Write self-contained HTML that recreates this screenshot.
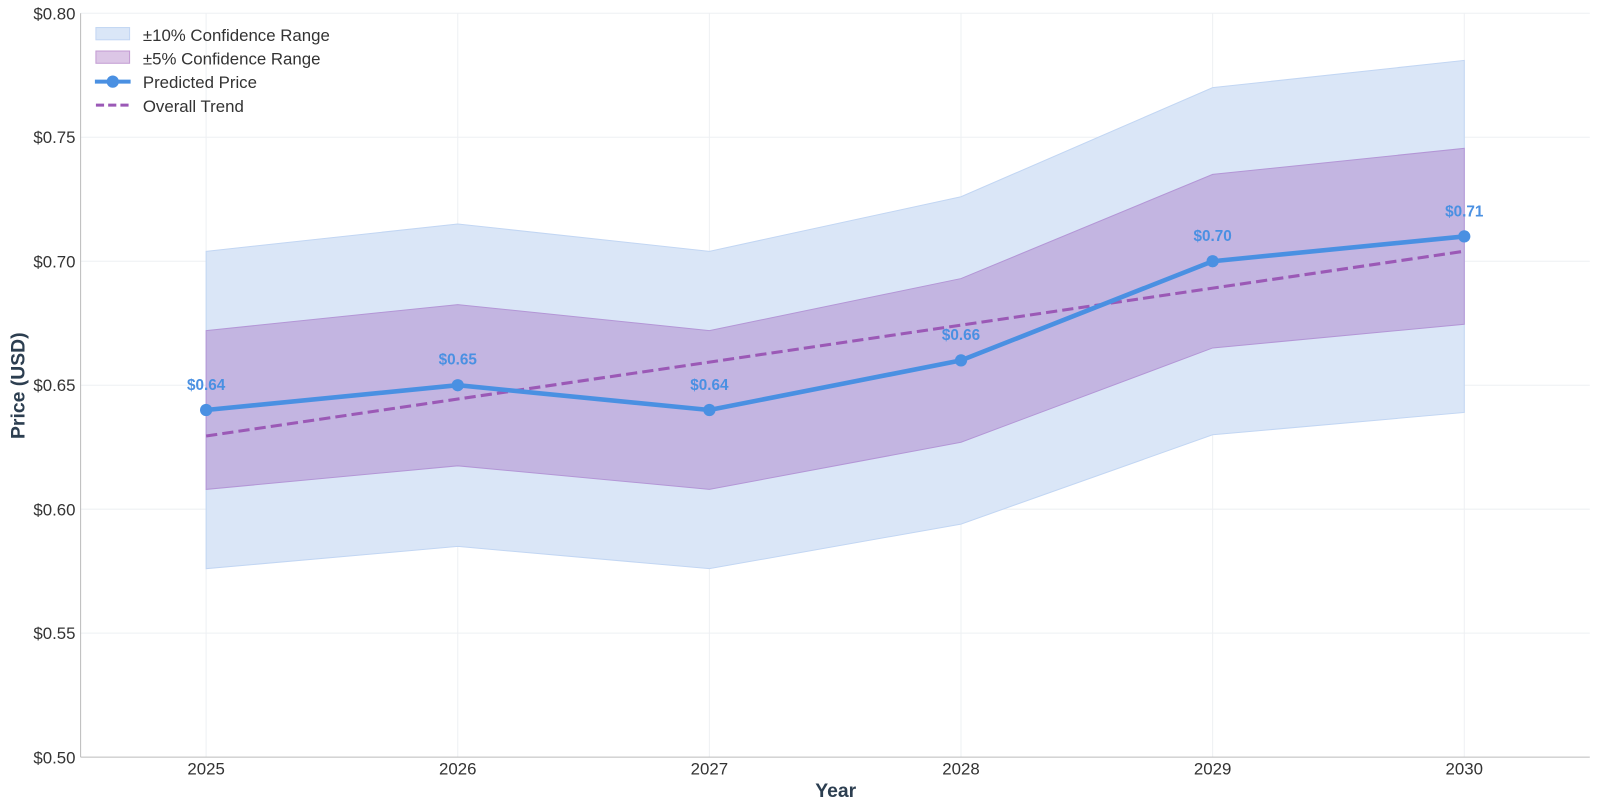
<!DOCTYPE html>
<html><head><meta charset="utf-8"><style>html,body{margin:0;padding:0;background:#fff;overflow:hidden;width:1600px;height:811px}svg{display:block}text{font-family:"Liberation Sans",sans-serif}</style></head><body>
<svg width="1600" height="811" viewBox="0 0 1600 811">
<g transform="scale(1.0204)">
<g stroke="#eef0f3" stroke-width="1">
<line x1="79" x2="1558" y1="13" y2="13"/><line x1="79" x2="1558" y1="134.5" y2="134.5"/><line x1="79" x2="1558" y1="256" y2="256"/><line x1="79" x2="1558" y1="377.5" y2="377.5"/><line x1="79" x2="1558" y1="499" y2="499"/><line x1="79" x2="1558" y1="620.5" y2="620.5"/>
<line x1="202" x2="202" y1="13" y2="742"/><line x1="448.6" x2="448.6" y1="13" y2="742"/><line x1="695.2" x2="695.2" y1="13" y2="742"/><line x1="941.8" x2="941.8" y1="13" y2="742"/><line x1="1188.4" x2="1188.4" y1="13" y2="742"/><line x1="1435" x2="1435" y1="13" y2="742"/>
</g>
<polygon points="202,246.3 448.6,219.5 695.2,246.3 941.8,192.8 1188.4,85.9 1435,59.2 1435,404.2 1188.4,426.1 941.8,513.6 695.2,557.3 448.6,535.5 202,557.3" fill="#dae6f7" stroke="#c2d6f3" stroke-width="1"/>
<polygon points="202,324 448.6,298.5 695.2,324 941.8,273 1188.4,170.9 1435,145.4 1435,317.8 1188.4,341 941.8,433.4 695.2,479.6 448.6,456.5 202,479.6" fill="#c3b5e1" stroke="#b396d6" stroke-width="1"/>
<line x1="202" y1="427.3" x2="1435" y2="246.2" stroke="#9b59b6" stroke-width="3" stroke-dasharray="11,5"/>
<polyline points="202,401.8 448.6,377.5 695.2,401.8 941.8,353.2 1188.4,256 1435,231.7" fill="none" stroke="#4a90e2" stroke-width="4.5" stroke-linejoin="round"/>
<g fill="#4a90e2"><circle cx="202" cy="401.8" r="6"/><circle cx="448.6" cy="377.5" r="6"/><circle cx="695.2" cy="401.8" r="6"/><circle cx="941.8" cy="353.2" r="6"/><circle cx="1188.4" cy="256" r="6"/><circle cx="1435" cy="231.7" r="6"/></g>
<g fill="#4a90e2" font-size="15" font-weight="bold" text-anchor="middle">
<text x="202" y="382">$0.64</text><text x="448.6" y="357">$0.65</text><text x="695.2" y="382">$0.64</text><text x="941.8" y="333">$0.66</text><text x="1188.4" y="236">$0.70</text><text x="1435" y="212">$0.71</text></g>
<line x1="79" y1="13" x2="79" y2="742" stroke="#bbb"/><line x1="79" y1="742" x2="1558" y2="742" stroke="#bbb"/>
<g font-size="16.5" fill="#333" text-anchor="end">
<text x="74" y="19">$0.80</text><text x="74" y="140">$0.75</text><text x="74" y="262">$0.70</text><text x="74" y="383">$0.65</text><text x="74" y="505">$0.60</text><text x="74" y="626">$0.55</text><text x="74" y="748">$0.50</text></g>
<g font-size="16.5" fill="#333" text-anchor="middle">
<text x="202" y="759">2025</text><text x="448.6" y="759">2026</text><text x="695.2" y="759">2027</text><text x="941.8" y="759">2028</text><text x="1188.4" y="759">2029</text><text x="1435" y="759">2030</text></g>
<text x="819" y="781" font-size="19" font-weight="bold" fill="#2c3e50" text-anchor="middle">Year</text>
<text transform="translate(24,378) rotate(-90)" font-size="19" font-weight="bold" fill="#2c3e50" text-anchor="middle">Price (USD)</text>
<rect x="94" y="27" width="33" height="12" fill="#dae6f7" stroke="#c2d6f3"/>
<rect x="94" y="50" width="33" height="12" fill="#dcc6e6" stroke="#c39bd3"/>
<line x1="93" y1="80" x2="128" y2="80" stroke="#4a90e2" stroke-width="4"/><circle cx="110.5" cy="80" r="6" fill="#4a90e2"/>
<line x1="94" y1="103" x2="128" y2="103" stroke="#9b59b6" stroke-width="3" stroke-dasharray="8,4"/>
<g font-size="16.5" fill="#333"><text x="140" y="40">±10% Confidence Range</text><text x="140" y="63">±5% Confidence Range</text><text x="140" y="86">Predicted Price</text><text x="140" y="110">Overall Trend</text></g>
</g>
</svg></body></html>
